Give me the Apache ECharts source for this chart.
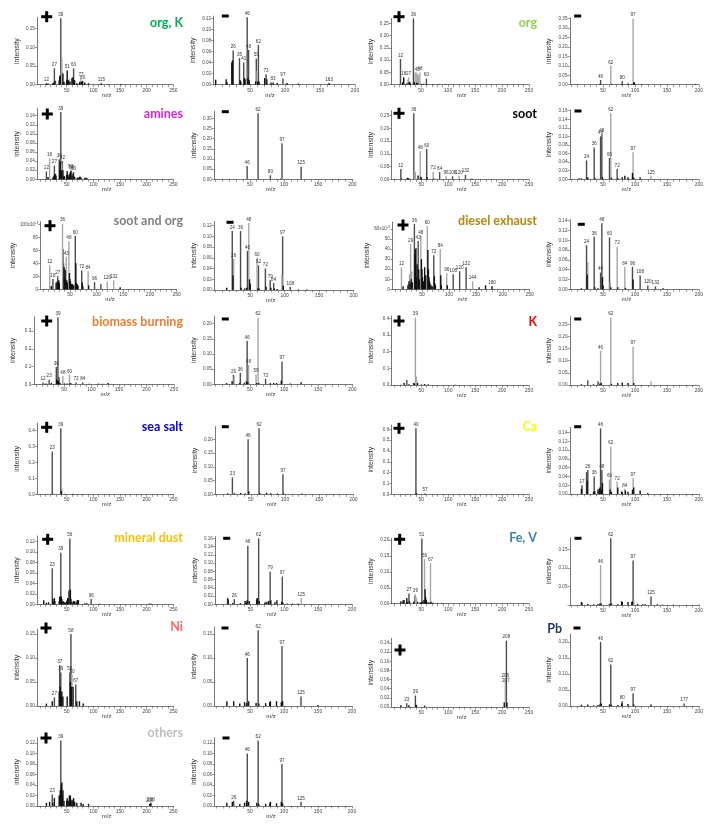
<!DOCTYPE html>
<html><head><meta charset="utf-8">
<script src="https://cdn.jsdelivr.net/npm/echarts@6/dist/echarts.min.js"></script>
<style>html,body{margin:0;padding:0;background:#fff}#c{width:706px;height:837px}</style>
</head><body><div id="c"></div>
<script>
// ---- DATA: each peak = [m/z, intensity, tone (d dark, g grey, k black), labelled?] ----
const orgK_pos = [[12,0.004,'k',1],[15,0.003,'k'],[24,0.004,'k'],[26,0.006,'k'],[27,0.044,'d',1],[28,0.01,'k'],[29,0.012,'g'],[36,0.012,'k'],[37,0.022,'k'],[38,0.025,'k'],[39,0.178,'d',1],[40,0.04,'g'],[41,0.07,'g'],[42,0.035,'g'],[43,0.03,'k'],[44,0.006,'k'],[45,0.008,'k'],[50,0.012,'k'],[51,0.038,'k',1],[52,0.01,'k'],[53,0.012,'k'],[55,0.015,'g'],[56,0.008,'k'],[57,0.01,'g'],[60,0.018,'k'],[61,0.02,'g'],[62,0.02,'k'],[63,0.044,'d',1],[64,0.008,'k'],[65,0.012,'k'],[69,0.004,'k'],[74,0.006,'k'],[75,0.008,'k'],[77,0.016,'g',1],[78,0.008,'k'],[79,0.006,'k'],[80,0.01,'k',1],[84,0.006,'k'],[91,0.004,'k'],[115,0.004,'k',1],[128,0.002,'k'],[152,0.002,'k']];
const orgK_neg = [[1,0.009,'k'],[16,0.01,'k'],[17,0.005,'k'],[24,0.04,'k'],[25,0.044,'k'],[26,0.062,'d',1],[35,0.048,'d',1],[36,0.008,'k'],[37,0.006,'k'],[41,0.04,'d',1],[42,0.012,'k'],[43,0.01,'k'],[45,0.028,'g'],[46,0.122,'d',1],[47,0.012,'k'],[48,0.063,'d',1],[49,0.008,'k'],[58,0.006,'k'],[59,0.047,'d',1],[60,0.025,'g'],[61,0.006,'k'],[62,0.072,'d',1],[63,0.006,'k'],[71,0.012,'k'],[73,0.019,'d',1],[74,0.01,'k'],[80,0.004,'k'],[83,0.004,'k',1],[89,0.003,'k'],[97,0.011,'d',1],[103,0.003,'k'],[119,0.002,'k'],[163,0.003,'k',1]];
const org_pos = [[12,0.105,'d',1],[16,0.01,'k'],[18,0.03,'k',1],[24,0.006,'k'],[26,0.02,'g'],[27,0.03,'g',1],[28,0.01,'k'],[29,0.012,'k'],[30,0.006,'k'],[36,0.27,'d',1],[37,0.01,'k'],[38,0.008,'k'],[39,0.05,'g'],[41,0.05,'g'],[42,0.008,'k'],[43,0.045,'g',1],[44,0.006,'k'],[45,0.04,'g'],[48,0.05,'g',1],[50,0.004,'k'],[55,0.004,'k'],[60,0.025,'d',1],[61,0.003,'k'],[72,0.002,'k'],[84,0.002,'k'],[96,0.002,'k'],[110,0.001,'k']];
const org_neg = [[1,0.003,'g'],[16,0.004,'g'],[26,0.003,'g'],[35,0.002,'g'],[42,0.003,'g'],[45,0.004,'k'],[46,0.025,'d',1],[62,0.1,'g',1],[63,0.005,'k'],[79,0.004,'k'],[80,0.019,'d',1],[89,0.006,'k'],[95,0.004,'k'],[97,0.35,'g',1],[98,0.012,'k'],[99,0.012,'k'],[111,0.002,'k'],[125,0.004,'g'],[195,0.004,'k']];
const amines_pos = [[12,0.017,'d',1],[15,0.005,'k'],[18,0.046,'g',1],[24,0.004,'k'],[26,0.008,'k'],[27,0.03,'d',1],[28,0.01,'k'],[29,0.012,'k'],[30,0.008,'k'],[36,0.044,'d',1],[37,0.02,'k'],[38,0.04,'k'],[39,0.148,'d',1],[40,0.02,'k'],[41,0.034,'g'],[42,0.04,'d',1],[43,0.02,'k'],[44,0.006,'k'],[45,0.008,'k'],[46,0.006,'k'],[50,0.01,'k'],[51,0.018,'k'],[52,0.01,'k'],[53,0.006,'k'],[55,0.01,'k'],[56,0.012,'k'],[57,0.016,'k'],[58,0.02,'d',1],[59,0.018,'d',1],[60,0.008,'k'],[62,0.012,'k'],[63,0.016,'d',1],[64,0.006,'k'],[65,0.005,'k'],[70,0.004,'k'],[72,0.003,'k'],[74,0.005,'k'],[75,0.006,'k'],[77,0.004,'k'],[84,0.003,'k'],[86,0.004,'k'],[88,0.003,'k']];
const amines_neg = [[1,0.002,'g'],[16,0.003,'g'],[26,0.003,'g'],[35,0.002,'g'],[45,0.003,'g'],[46,0.065,'d',1],[62,0.325,'d',1],[79,0.004,'g'],[80,0.02,'d',1],[89,0.004,'g'],[95,0.005,'d'],[96,0.006,'g'],[97,0.177,'d',1],[111,0.002,'g'],[125,0.062,'d',1],[160,0.002,'g'],[195,0.002,'g']];
const soot_pos = [[12,0.04,'d',1],[13,0.003,'k'],[24,0.006,'k'],[26,0.003,'k'],[27,0.004,'k'],[36,0.26,'d',1],[37,0.035,'g'],[38,0.03,'d'],[39,0.028,'g'],[44,0.015,'k'],[48,0.11,'g',1],[49,0.01,'k'],[50,0.006,'k'],[60,0.12,'d',1],[61,0.008,'k'],[72,0.03,'g',1],[73,0.003,'k'],[84,0.028,'d',1],[96,0.014,'g',1],[108,0.012,'d',1],[120,0.014,'g',1],[132,0.018,'d',1],[144,0.003,'k']];
const soot_neg = [[12,0.003,'d'],[16,0.003,'d'],[24,0.044,'d',1],[25,0.004,'k'],[26,0.004,'k'],[36,0.074,'d',1],[37,0.003,'k'],[46,0.1,'d',1],[48,0.105,'d',1],[49,0.005,'k'],[60,0.05,'d',1],[62,0.154,'g',1],[63,0.004,'k'],[72,0.024,'d',1],[73,0.003,'k'],[80,0.005,'k'],[84,0.008,'k'],[89,0.005,'k'],[96,0.015,'k'],[97,0.063,'g',1],[98,0.004,'k'],[108,0.005,'k'],[125,0.008,'g',1]];
const sootorg_pos = [[12,0.037,'g',1],[15,0.005,'k'],[18,0.016,'d',1],[24,0.01,'k'],[26,0.012,'k'],[27,0.02,'d',1],[28,0.012,'k'],[29,0.014,'k'],[30,0.01,'k'],[36,0.101,'g',1],[37,0.062,'d'],[38,0.04,'d'],[39,0.034,'k'],[40,0.016,'k'],[41,0.03,'k'],[42,0.012,'k'],[43,0.05,'g',1],[44,0.014,'k'],[45,0.01,'k'],[48,0.074,'g',1],[49,0.025,'k'],[50,0.016,'k'],[51,0.012,'k'],[52,0.008,'k'],[53,0.008,'k'],[55,0.008,'k'],[57,0.006,'k'],[60,0.082,'d',1],[61,0.04,'k'],[62,0.01,'k'],[63,0.008,'k'],[64,0.006,'k'],[65,0.006,'k'],[72,0.029,'d',1],[73,0.01,'k'],[74,0.005,'k'],[84,0.028,'g',1],[85,0.006,'k'],[96,0.011,'d',1],[108,0.008,'d'],[120,0.012,'g',1],[132,0.014,'g',1],[144,0.003,'k']];
const sootorg_neg = [[16,0.004,'k'],[24,0.11,'d',1],[25,0.027,'k'],[26,0.058,'g',1],[36,0.11,'d',1],[37,0.004,'k'],[42,0.003,'k'],[45,0.004,'k'],[46,0.073,'d',1],[48,0.125,'g',1],[49,0.02,'k'],[50,0.012,'k'],[60,0.06,'g',1],[61,0.003,'k'],[62,0.046,'d',1],[63,0.003,'k'],[72,0.04,'d',1],[73,0.006,'k'],[79,0.018,'d',1],[80,0.004,'k'],[84,0.013,'d',1],[85,0.003,'k'],[89,0.002,'k'],[96,0.028,'g'],[97,0.1,'d',1],[98,0.008,'k'],[108,0.006,'d',1],[120,0.001,'k'],[132,0.001,'k']];
const diesel_pos = [[12,0.022,'g',1],[15,0.003,'k'],[24,0.004,'k'],[26,0.008,'k'],[27,0.015,'g'],[28,0.006,'k'],[29,0.045,'g',1],[30,0.01,'k'],[31,0.018,'g'],[32,0.007,'k'],[36,0.065,'d',1],[37,0.035,'k'],[38,0.04,'k'],[39,0.041,'d'],[40,0.012,'k'],[41,0.025,'k'],[43,0.048,'d',1],[44,0.02,'k'],[45,0.01,'k'],[48,0.053,'g',1],[49,0.03,'k'],[50,0.02,'k'],[51,0.012,'k'],[52,0.006,'k'],[53,0.008,'k'],[55,0.022,'k'],[56,0.005,'k'],[57,0.014,'k'],[60,0.063,'g',1],[61,0.039,'k'],[62,0.02,'k'],[63,0.012,'k'],[64,0.008,'k'],[65,0.006,'k'],[67,0.004,'k'],[69,0.003,'k'],[72,0.034,'d',1],[73,0.013,'k'],[74,0.006,'k'],[75,0.004,'k'],[84,0.04,'g',1],[85,0.014,'k'],[86,0.004,'k'],[96,0.016,'g',1],[97,0.004,'k'],[108,0.015,'d',1],[120,0.018,'d',1],[132,0.022,'d',1],[144,0.008,'g',1],[156,0.002,'k'],[168,0.004,'k'],[180,0.003,'k',1]];
const diesel_neg = [[16,0.002,'k'],[24,0.09,'d',1],[25,0.03,'k'],[26,0.055,'g'],[36,0.107,'d',1],[37,0.004,'k'],[42,0.002,'k'],[46,0.034,'d',1],[48,0.135,'d',1],[49,0.025,'k'],[50,0.008,'k'],[60,0.106,'d',1],[61,0.015,'g'],[62,0.004,'k'],[72,0.087,'g',1],[73,0.004,'k'],[84,0.046,'g',1],[85,0.003,'k'],[96,0.046,'d',1],[97,0.02,'k'],[108,0.028,'d',1],[120,0.008,'d',1],[132,0.006,'d',1],[144,0.002,'k']];
const biomass_pos = [[12,0.01,'d',1],[15,0.003,'k'],[18,0.004,'k'],[23,0.026,'d',1],[27,0.008,'k'],[36,0.097,'d',1],[37,0.025,'k'],[38,0.02,'k'],[39,0.377,'d',1],[40,0.02,'k'],[41,0.04,'d'],[43,0.008,'k'],[48,0.045,'g',1],[51,0.005,'k'],[56,0.005,'k'],[60,0.053,'g',1],[61,0.008,'k'],[63,0.005,'k'],[72,0.01,'d',1],[84,0.01,'d',1],[96,0.003,'k'],[113,0.004,'k'],[120,0.003,'k'],[130,0.008,'k'],[140,0.001,'k']];
const biomass_neg = [[16,0.004,'k'],[24,0.01,'k'],[26,0.031,'d',1],[27,0.025,'g'],[35,0.004,'k'],[36,0.038,'d',1],[42,0.005,'k'],[45,0.01,'k'],[46,0.143,'d',1],[47,0.007,'k'],[48,0.064,'g',1],[59,0.032,'g',1],[60,0.004,'k'],[62,0.22,'g',1],[63,0.004,'k'],[73,0.018,'d',1],[80,0.004,'k'],[85,0.004,'k'],[89,0.004,'k'],[96,0.012,'k'],[97,0.075,'d',1],[109,0.003,'k'],[125,0.007,'k']];
const K_pos = [[12,0.002,'k'],[18,0.012,'k'],[23,0.03,'d'],[27,0.004,'k'],[36,0.012,'k'],[37,0.008,'k'],[39,0.404,'g',1],[40,0.02,'d'],[41,0.05,'g'],[43,0.012,'k'],[50,0.003,'k'],[56,0.005,'k'],[57,0.003,'k'],[63,0.004,'k'],[113,0.001,'k']];
const K_neg = [[16,0.003,'k'],[26,0.02,'d'],[35,0.003,'k'],[42,0.015,'d'],[45,0.006,'k'],[46,0.141,'g',1],[47,0.008,'k'],[62,0.278,'g',1],[63,0.005,'k'],[73,0.008,'k'],[80,0.01,'k'],[89,0.008,'k'],[97,0.158,'g',1],[98,0.008,'k'],[125,0.015,'g'],[195,0.002,'g']];
const seasalt_pos = [[12,0.002,'k'],[23,0.268,'d',1],[24,0.004,'k'],[39,0.415,'d',1],[40,0.02,'k'],[41,0.04,'g'],[46,0.003,'k'],[62,0.003,'k'],[63,0.002,'k'],[81,0.002,'k'],[113,0.001,'k']];
const seasalt_neg = [[16,0.004,'k'],[23,0.061,'d',1],[26,0.004,'k'],[35,0.005,'k'],[42,0.003,'k'],[46,0.2,'d',1],[47,0.01,'k'],[62,0.24,'d',1],[63,0.005,'k'],[73,0.006,'k'],[79,0.004,'k'],[89,0.003,'k'],[97,0.073,'d',1],[98,0.003,'k'],[125,0.003,'k'],[165,0.001,'k']];
const Ca_pos = [[23,0.002,'k'],[39,0.004,'k'],[40,0.61,'d',1],[41,0.01,'k'],[57,0.008,'k',1],[96,0.002,'k']];
const Ca_neg = [[16,0.012,'k'],[17,0.02,'d',1],[24,0.05,'d'],[25,0.03,'k'],[26,0.055,'d',1],[35,0.005,'k'],[36,0.04,'d',1],[37,0.006,'k'],[42,0.01,'k'],[44,0.012,'k'],[45,0.015,'k'],[46,0.15,'d',1],[47,0.01,'k'],[48,0.055,'d',1],[49,0.025,'k'],[60,0.033,'g',1],[61,0.01,'k'],[62,0.108,'g',1],[63,0.005,'k'],[72,0.028,'g',1],[73,0.015,'k'],[79,0.006,'k'],[80,0.004,'k'],[84,0.012,'g',1],[85,0.008,'k'],[89,0.005,'k'],[96,0.01,'k'],[97,0.037,'g',1],[98,0.015,'k'],[108,0.008,'k'],[120,0.002,'k']];
const mineral_pos = [[7,0.008,'k'],[12,0.003,'k'],[16,0.004,'k'],[23,0.069,'d',1],[24,0.01,'k'],[26,0.006,'k'],[27,0.012,'k'],[28,0.006,'k'],[36,0.006,'k'],[37,0.015,'k'],[38,0.013,'k'],[39,0.099,'d',1],[40,0.015,'k'],[41,0.01,'k'],[43,0.006,'k'],[44,0.005,'k'],[46,0.004,'k'],[48,0.003,'k'],[50,0.006,'k'],[51,0.008,'k'],[52,0.012,'k'],[53,0.01,'k'],[54,0.025,'d'],[55,0.028,'d'],[56,0.126,'d',1],[57,0.028,'k'],[58,0.01,'k'],[60,0.005,'k'],[63,0.006,'k'],[64,0.004,'k'],[65,0.006,'k'],[68,0.004,'k'],[70,0.008,'k'],[72,0.008,'k'],[84,0.002,'k'],[88,0.002,'k'],[96,0.01,'d',1],[112,0.001,'k'],[204,0.001,'k'],[206,0.001,'k'],[208,0.001,'k']];
const mineral_neg = [[16,0.016,'d'],[17,0.012,'k'],[24,0.003,'k'],[26,0.012,'d',1],[35,0.003,'k'],[42,0.008,'k'],[44,0.005,'k'],[45,0.01,'k'],[46,0.142,'d',1],[48,0.008,'k'],[59,0.012,'k'],[60,0.015,'k'],[62,0.16,'d',1],[63,0.008,'k'],[71,0.004,'k'],[73,0.006,'k'],[76,0.006,'k'],[77,0.008,'k'],[79,0.079,'d',1],[80,0.01,'k'],[86,0.005,'k'],[89,0.01,'k'],[96,0.006,'k'],[97,0.067,'d',1],[98,0.004,'k'],[104,0.002,'k'],[112,0.002,'k'],[120,0.002,'k'],[125,0.015,'g',1]];
const FeV_pos = [[12,0.008,'k'],[16,0.01,'k'],[18,0.012,'k'],[23,0.018,'k'],[24,0.006,'k'],[27,0.032,'d',1],[28,0.008,'k'],[36,0.006,'k'],[38,0.025,'d'],[39,0.03,'g',1],[40,0.02,'g'],[41,0.018,'g'],[43,0.006,'k'],[48,0.004,'k'],[50,0.004,'k'],[51,0.205,'d',1],[52,0.006,'k'],[54,0.01,'g'],[55,0.012,'k'],[56,0.14,'g',1],[57,0.045,'k'],[58,0.02,'k'],[59,0.012,'k'],[60,0.006,'k'],[63,0.004,'k'],[65,0.003,'k'],[67,0.127,'g',1],[68,0.006,'k'],[72,0.003,'k'],[80,0.002,'k'],[88,0.002,'k']];
const FeV_neg = [[16,0.008,'k'],[17,0.005,'k'],[26,0.003,'k'],[35,0.002,'k'],[42,0.003,'k'],[45,0.004,'k'],[46,0.108,'g',1],[47,0.004,'k'],[60,0.003,'k'],[62,0.18,'d',1],[63,0.004,'k'],[73,0.002,'k'],[79,0.01,'k'],[80,0.008,'k'],[89,0.008,'k'],[95,0.008,'k'],[96,0.01,'k'],[97,0.12,'d',1],[98,0.015,'g'],[104,0.003,'k'],[112,0.002,'k'],[116,0.002,'k'],[125,0.023,'d',1],[135,0.002,'k'],[143,0.001,'k'],[160,0.001,'k'],[200,0.001,'k']];
const Ni_pos = [[12,0.005,'k'],[23,0.01,'k'],[27,0.018,'d',1],[36,0.03,'k'],[37,0.085,'d',1],[38,0.04,'k'],[39,0.07,'d',1],[40,0.02,'k'],[41,0.03,'k'],[43,0.02,'k'],[51,0.02,'k'],[56,0.07,'d',1],[57,0.05,'k'],[58,0.15,'d',1],[59,0.04,'k'],[60,0.065,'g',1],[62,0.04,'k'],[67,0.045,'d',1],[69,0.01,'k'],[74,0.01,'k'],[81,0.005,'k']];
const Ni_neg = [[16,0.01,'k'],[26,0.01,'k'],[35,0.005,'k'],[42,0.008,'k'],[45,0.006,'k'],[46,0.1,'d',1],[48,0.01,'k'],[59,0.006,'k'],[62,0.158,'d',1],[63,0.005,'k'],[73,0.006,'k'],[79,0.008,'k'],[80,0.01,'k'],[89,0.01,'k'],[96,0.008,'k'],[97,0.125,'d',1],[98,0.01,'k'],[125,0.02,'d',1],[150,0.002,'k']];
const Pb_pos = [[12,0.004,'k'],[23,0.008,'d',1],[27,0.004,'k'],[39,0.025,'d',1],[40,0.005,'k'],[41,0.004,'k'],[56,0.003,'k'],[204,0.01,'k'],[206,0.06,'g',1],[207,0.05,'d',1],[208,0.145,'d',1],[209,0.01,'k']];
const Pb_neg = [[16,0.004,'k'],[26,0.005,'k'],[35,0.002,'k'],[42,0.003,'k'],[45,0.005,'k'],[46,0.2,'d',1],[47,0.008,'k'],[60,0.005,'k'],[62,0.13,'d',1],[63,0.004,'k'],[73,0.003,'k'],[79,0.008,'k'],[80,0.015,'d',1],[89,0.006,'k'],[97,0.04,'d',1],[98,0.005,'k'],[125,0.005,'k'],[177,0.008,'d',1]];
const others_pos = [[12,0.006,'k'],[18,0.008,'k'],[23,0.022,'d',1],[24,0.006,'k'],[27,0.015,'k'],[36,0.02,'k'],[37,0.02,'k'],[38,0.03,'k'],[39,0.125,'d',1],[40,0.04,'k'],[41,0.045,'k'],[42,0.02,'k'],[43,0.03,'k'],[45,0.01,'k'],[50,0.01,'k'],[51,0.015,'k'],[53,0.01,'k'],[55,0.02,'k'],[56,0.015,'k'],[57,0.02,'k'],[58,0.01,'k'],[60,0.012,'k'],[62,0.01,'k'],[63,0.015,'k'],[65,0.008,'k'],[69,0.006,'k'],[77,0.006,'k'],[81,0.004,'k'],[91,0.004,'k'],[206,0.004,'k',1],[207,0.004,'k'],[208,0.006,'k',1]];
const others_neg = [[16,0.006,'k'],[24,0.008,'k'],[26,0.01,'d',1],[35,0.004,'k'],[42,0.006,'k'],[45,0.01,'k'],[46,0.1,'d',1],[48,0.008,'k'],[60,0.006,'k'],[62,0.125,'d',1],[63,0.004,'k'],[73,0.004,'k'],[79,0.005,'k'],[80,0.008,'k'],[89,0.005,'k'],[96,0.008,'k'],[97,0.08,'d',1],[98,0.005,'k'],[125,0.008,'d',1]];

const classNames  = ['org, K','org','amines','soot','soot and org','diesel exhaust','biomass burning','K','sea salt','Ca','mineral dust','Fe, V','Ni','Pb','others'];
const classColors = ['#00b050','#92d050','#dd22dd','#000000','#808080','#b8860b','#ed7d31','#ff0000','#0000ee','#ffff00','#ffc000','#31869b','#ff6666','#1f3864','#bfbfbf'];
const posXLabels = [50,100,150,200,250];
const negXLabels = [50,100,150,200];

// ---- LAYOUT (pixels) ----
// [data, type, x0 (m/z 0), xEnd (m/z max), y0, tickVal, tickPx, interval, yMax, fmt]
const panels = [
 [orgK_pos,'p',40,173.3,84.7,0.15,28.7,0.05,0.18,'2'],
 [orgK_neg,'n',215,355,84.7,0.12,18.3,0.02,0.124,'2'],
 [org_pos,'p',394,529,84.7,0.25,23.3,0.05,0.27,'2'],
 [org_neg,'n',571.3,706.7,84.7,0.35,18.7,0.05,0.355,'2'],
 [amines_pos,'p',40,173.3,179.3,0.14,115.7,0.02,0.156,'2'],
 [amines_neg,'n',215.7,352.4,179.3,0.30,118.3,0.05,0.335,'2'],
 [soot_pos,'p',394.4,529,179.3,0.25,115.7,0.05,0.27,'2'],
 [soot_neg,'n',571.3,706.7,179.3,0.16,110.7,0.02,0.162,'2'],
 [sootorg_pos,'p',43.3,176.7,289.3,0.10,224.3,0.02,0.104,'m'],
 [sootorg_neg,'n',215.7,353.7,290,0.12,225.7,0.02,0.128,'2'],
 [diesel_pos,'p',395,529.7,289.3,0.06,229,0.01,0.067,'m'],
 [diesel_neg,'n',571.3,706.7,289.3,0.14,220.7,0.02,0.142,'2'],
 [biomass_pos,'p',36.5,174,384.3,0.3,331,0.1,0.38,'1'],
 [biomass_neg,'n',215.7,352.4,384.3,0.20,323.7,0.05,0.225,'2'],
 [K_pos,'p',394.4,529,385,0.4,318.3,0.1,0.414,'1'],
 [K_neg,'n',571.3,706.7,385,0.25,324.3,0.05,0.282,'2'],
 [seasalt_pos,'p',40,173.3,494.3,0.4,430.7,0.1,0.446,'1'],
 [seasalt_neg,'n',216.7,353.3,494.3,0.20,439.3,0.05,0.246,'2'],
 [Ca_pos,'p',394.4,529,494.3,0.6,429.3,0.1,0.64,'1'],
 [Ca_neg,'n',571.3,706.7,494,0.14,432.7,0.02,0.152,'2'],
 [mineral_pos,'p',40,173.3,604.3,0.12,541.7,0.02,0.131,'2'],
 [mineral_neg,'n',216.7,352,604.3,0.16,538.3,0.02,0.164,'2'],
 [FeV_pos,'p',394.4,529,603.7,0.20,540,0.05,0.205,'2'],
 [FeV_neg,'n',571.3,706.7,605,0.15,549.3,0.05,0.181,'2z'],
 [Ni_pos,'p',40,173.3,706,0.15,634,0.05,0.16,'2'],
 [Ni_neg,'n',216,352,706,0.15,634,0.05,0.165,'2'],
 [Pb_pos,'p',394.4,529,707,0.14,643,0.02,0.15,'2'],
 [Pb_neg,'n',571.3,706.7,706,0.20,642,0.05,0.225,'2'],
 [others_pos,'p',40,173.3,806,0.12,743,0.02,0.13,'2'],
 [others_neg,'n',216,352,806,0.12,743,0.02,0.13,'2']
];
// sign marks [+x,+y,-x,-y] and title [rightX, y] per class
const signPos = [[46.7,16.7,225.3,16],[399,16.7,577.7,16],[47.3,114,225.3,111.7],[399,113.3,578,111],
 [50,225.7,230,222.3],[403,225,581.3,224.3],[46.7,321,225.3,319],[399,321,577.7,319],
 [46.7,427.3,225.3,426.7],[399,428.3,577.7,426.7],[47.7,539.3,226.7,538.3],[399.7,539.3,578,538.3],
 [46,628,225,628],[400,650,577,628],[46,738,226,738]];
const titlePos = [[183,23],[537,23],[183,114],[537,114],[183,221],[537,221],[183,322],[537,322],
 [183,427],[537,427],[183,538],[537,538],[183,627],[562,629],[183,733]];

const TONE = {d:'#4b4b4b', g:'#a6a6a6', k:'#111111'};
const AX = '#555';
const FONT = 'Liberation Sans, Arial, sans-serif';

const grid=[], xAxis=[], yAxis=[], series=[], graphic=[];
function range(a,b,s){const r=[];for(let v=a;v<=b+1e-9;v+=s)r.push(Number(v.toFixed(5)));return r;}

panels.forEach((p,i)=>{
  const [data,type,x0,xEnd,y0,tv,tp,iv,ymax,fmt]=p;
  const xmaxRef = type==='p'?250:200;
  const ppx=(xEnd-x0)/xmaxRef;
  const xmin = type==='p'?-5:-2;
  const ppy=(y0-tp)/tv;
  const top=y0-ymax*ppy;
  grid.push({left:x0+xmin*ppx, top:top, width:(xmaxRef-xmin)*ppx, height:ymax*ppy});
  xAxis.push({gridIndex:i,type:'value',min:xmin,max:xmaxRef,
    axisLine:{show:true,onZero:false,lineStyle:{color:AX,width:0.8}},
    axisTick:{show:true,customValues:range(0,xmaxRef,10),length:2.5,lineStyle:{color:AX,width:0.6}},
    axisLabel:{customValues:type==='p'?posXLabels:negXLabels,fontSize:5,margin:3,color:'#444',fontFamily:FONT},
    splitLine:{show:false}});
  const yt=range(0,ymax,iv);
  const yl = fmt==='2z'? yt.filter(v=>v>0):yt;
  yAxis.push({gridIndex:i,type:'value',min:0,max:ymax,
    axisLine:{show:true,onZero:false,lineStyle:{color:AX,width:0.8}},
    axisTick:{show:true,customValues:yt,length:2.5,lineStyle:{color:AX,width:0.6}},
    axisLabel:{customValues:yl,fontSize:4.6,margin:2.5,color:'#444',fontFamily:FONT,
      formatter:(v)=>{
        if(fmt==='m'){const n=Math.round(v*1000); return Math.abs(v-tv)<1e-9?'{a|'+n+'x10}{s|-3}':String(n);}
        if(fmt==='1')return v.toFixed(1);
        return v.toFixed(2);
      },
      rich:{a:{fontSize:4.6,color:'#444',fontFamily:FONT},s:{fontSize:3.4,color:'#444',verticalAlign:'top',padding:[0,0,3,0],fontFamily:FONT}}},
    name:'intensity',nameLocation:'middle',nameGap:type==='p'&&fmt==='m'?19:17,
    nameTextStyle:{fontSize:7,color:'#333',fontFamily:FONT},
    splitLine:{show:false}});
  ['d','g','k'].forEach(t=>{
    const items=data.filter(d=>d[2]===t).map(d=>{
      const it={value:[d[0],d[1]]};
      if(d[3]) it.label={show:true,position:'top',distance:1,fontSize:4.6,color:'#333',fontFamily:FONT,formatter:String(d[0])};
      return it;
    });
    series.push({type:'bar',xAxisIndex:i,yAxisIndex:i,barWidth:1.4,barGap:'-100%',silent:true,
      itemStyle:{color:TONE[t]},data:items,animation:false});
  });
  graphic.push({type:'text',x:type==='p'?x0+0.5*(xEnd-x0):x0+55,y:y0+10.5,
    style:{text:'m/z',fontSize:6,fill:'#333',fontFamily:FONT,textAlign:'center',textVerticalAlign:'middle'}});
});

classNames.forEach((n,i)=>{
  const s=signPos[i];
  graphic.push({type:'rect',shape:{x:s[0]-5.5,y:s[1]-1.5,width:11,height:3},style:{fill:'#000'}});
  graphic.push({type:'rect',shape:{x:s[0]-1.5,y:s[1]-5.5,width:3,height:11},style:{fill:'#000'}});
  graphic.push({type:'rect',shape:{x:s[2]-3.5,y:s[3]-1.5,width:7,height:3},style:{fill:'#000'}});
  const t=titlePos[i];
  graphic.push({type:'text',x:t[0],y:t[1],style:{text:n,fill:classColors[i],fontSize:12.5,fontWeight:'bold',
    fontFamily:'Lato, Open Sans, sans-serif',textAlign:'right',textVerticalAlign:'middle'}});
});

const chart=echarts.init(document.getElementById('c'),null,{renderer:'canvas'});
chart.setOption({backgroundColor:'#fff',animation:false,grid,xAxis,yAxis,series,graphic});
</script></body></html>
